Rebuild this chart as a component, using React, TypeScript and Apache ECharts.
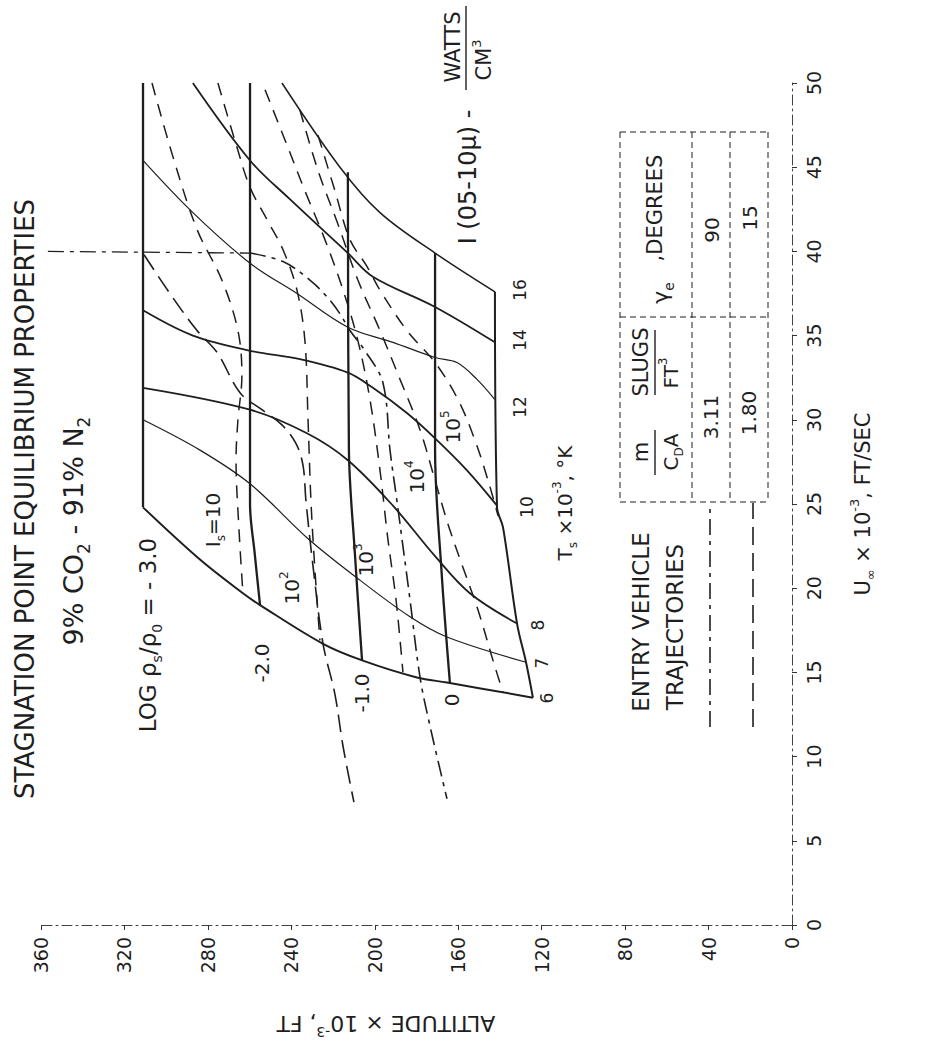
import React, { useEffect, useRef } from "react";
import * as echarts from "echarts";

// Axes
const altitudeTicks = [0, 40, 80, 120, 160, 200, 240, 280, 320, 360];
const velocityTicks = [0, 5, 10, 15, 20, 25, 30, 35, 40, 45, 50];

// Points are [altitude x10^-3 ft, velocity x10^-3 ft/s]
// log(rho_s/rho_0) lines
const rhoM3 = [[311.1, 50], [311.1, 24.8]];
const rhoM2 = [[259.8, 50], [259.8, 25.0], [257.5, 22.0], [255.0, 19.0]];
const rhoM1 = [[212.9, 44.7], [212.4, 28.2], [209.5, 22.0], [206.1, 15.7]];
const rho0 = [[171.1, 39.9], [171.1, 28.2], [168.0, 21.0], [164.0, 14.4]];
const rhoP1 = [[142.4, 37.6], [141.4, 24.8], [138.5, 23.6], [131.8, 17.9], [127.5, 15.6], [124.2, 13.5]];

// Stagnation temperature lines (Ts x 10^-3 K)
const ts6 = [[311.1, 24.8], [283.8, 21.7], [263.2, 19.7], [255.0, 19.0], [224.8, 16.7], [205.7, 15.7], [179.8, 14.7], [165.4, 14.4], [124.2, 13.5]];
const ts7 = [[311.1, 30.0], [283.8, 28.2], [259.8, 26.2], [232.5, 23.0], [210.5, 20.8], [183.1, 18.3], [165.4, 17.1], [127.5, 15.6]];
const ts8 = [[311.1, 31.9], [259.8, 30.6], [232.5, 29.2], [212.9, 27.6], [191.3, 24.9], [171.1, 21.9], [154.4, 19.7], [131.8, 17.9]];
const ts10 = [[311.1, 36.5], [287.2, 35.0], [259.8, 34.1], [235.9, 33.6], [212.9, 32.8], [200.9, 31.9], [184.6, 30.4], [171.1, 28.9], [155.8, 27.0], [141.4, 24.9]];
const ts12 = [[311.1, 45.4], [287.2, 42.3], [259.8, 39.3], [237.3, 37.5], [212.9, 35.5], [191.3, 34.6], [171.1, 33.7], [160.6, 33.4], [151.0, 32.4], [142.4, 31.2]];
const ts14 = [[287.2, 50.0], [259.8, 45.4], [240.7, 43.1], [212.9, 39.9], [200.9, 38.5], [171.1, 36.7], [142.4, 34.6]];
const ts16 = [[244.5, 50.0], [216.7, 45.0], [197.5, 42.3], [171.1, 39.9], [142.4, 37.6]];

// Radiation intensity lines I (0.5-10 micron), W/cm^3
const is1 = [[306.8, 50.0], [296.7, 45.6], [285.2, 41.3], [273.3, 38.3], [265.6, 35.3], [263.7, 32.6], [265.6, 30.0], [266.5, 27.6], [265.1, 23.5], [263.2, 19.7]];
const is2 = [[275.2, 50.0], [266.1, 46.2], [259.8, 43.8], [251.7, 41.9], [244.0, 40.1], [237.3, 37.7], [233.5, 34.7], [232.0, 30.0], [230.6, 25.2], [228.7, 21.1], [226.3, 16.9]];
const is3 = [[252.6, 49.6], [243.0, 46.6], [233.5, 43.6], [223.9, 40.7], [215.2, 37.7], [208.1, 34.7], [202.3, 31.2], [197.5, 27.0], [193.7, 22.9], [189.8, 19.3], [186.5, 15.0]];
const is4 = [[235.9, 48.4], [227.2, 44.8], [217.6, 41.6], [208.1, 38.3], [197.5, 35.3], [187.9, 32.4], [178.3, 29.4], [171.1, 26.4], [164.9, 23.8], [158.2, 21.4], [150.5, 18.7], [143.3, 15.7], [138.5, 13.8]];
const is5 = [[227.2, 46.9], [219.1, 43.6], [211.9, 40.7], [203.7, 39.1], [197.5, 37.7], [184.6, 35.3], [171.1, 33.4], [160.1, 31.2], [152.0, 28.8], [145.7, 26.4], [140.9, 24.3]];

// Entry trajectories
const entryVelocityLine = [[356.7, 40.0], [259.8, 39.9]];
const trajSteep = [[259.8, 39.9], [244.0, 39.4], [231.1, 38.3], [222.9, 37.3], [216.7, 36.3], [211.9, 35.3], [204.7, 34.1], [196.1, 32.2], [192.7, 28.2], [189.4, 25.2], [183.1, 19.3], [178.3, 14.7], [173.5, 11.8], [165.4, 7.5]];
const trajShallow = [[310.6, 39.8], [298.2, 37.5], [285.2, 35.3], [275.6, 34.0], [264.6, 31.6], [254.1, 30.6], [244.5, 29.7], [237.8, 28.6], [234.4, 27.3], [233.0, 25.2], [229.6, 21.3], [224.8, 16.7], [219.1, 13.7], [215.2, 10.6], [210.0, 7.3]];

const FONT = '"DejaVu Sans", "Liberation Sans", sans-serif';
const INK = "#1e1e1e";
const R = Math.PI / 2;

function richStyles(size: number) {
  return {
    b: { fontSize: size, lineHeight: Math.round(size * 1.4), fill: INK, fontFamily: FONT },
    sub: { fontSize: Math.round(size * 0.62), lineHeight: Math.round(size * 0.62), verticalAlign: "bottom", fill: INK, fontFamily: FONT },
    sup: { fontSize: Math.round(size * 0.62), lineHeight: Math.round(size * 0.62), verticalAlign: "top", fill: INK, fontFamily: FONT },
  };
}

function txt(text: string, x: number, y: number, size: number, rotation = R, rich = false) {
  const style: any = {
    text,
    fill: INK,
    fontSize: size,
    fontFamily: FONT,
    align: "center",
    verticalAlign: "middle",
    textAlign: "center",
    textVerticalAlign: "middle",
  };
  if (rich) style.rich = richStyles(size);
  return { type: "text", x, y, rotation, style, z: 10 };
}

function seg(x1: number, y1: number, x2: number, y2: number, dash: any = null, w = 1.2) {
  return {
    type: "line",
    shape: { x1, y1, x2, y2 },
    style: { stroke: INK, lineWidth: w, lineDash: dash },
    z: 10,
  };
}

function lineSeries(data: number[][], width: number, type: any = "solid", smooth: number | boolean = 0.35) {
  return {
    type: "line",
    data,
    smooth,
    symbol: "none",
    silent: true,
    lineStyle: { color: INK, width, type },
  };
}

export default function App() {
  const ref = useRef<HTMLDivElement>(null);
  useEffect(() => {
    if (!ref.current) return;
    const chart = echarts.init(ref.current, undefined, { renderer: "svg" });
    const dashDot = [16, 6, 4, 6];
    const longDash = [18, 8];
    const isDash = [13, 9];
    const option: any = {
      animation: false,
      backgroundColor: "#ffffff",
      grid: { left: 41, right: 145, top: 83, bottom: 131, containLabel: false },
      xAxis: {
        type: "value",
        min: altitudeTicks[0],
        max: altitudeTicks[altitudeTicks.length - 1],
        interval: 40,
        inverse: true,
        position: "bottom",
        axisLine: { show: true, onZero: false, lineStyle: { color: "#444", width: 1, type: [10, 4, 2, 4] } },
        axisTick: { show: true, length: 5, lineStyle: { color: "#333" } },
        axisLabel: { rotate: 90, margin: 12, fontSize: 19, color: INK, fontFamily: FONT },
        splitLine: { show: false },
      },
      yAxis: {
        type: "value",
        min: velocityTicks[0],
        max: velocityTicks[velocityTicks.length - 1],
        interval: 5,
        position: "right",
        axisLine: { show: true, onZero: false, lineStyle: { color: "#444", width: 1, type: [10, 4, 2, 4] } },
        axisTick: { show: true, length: 5, lineStyle: { color: "#333" } },
        axisLabel: { rotate: 90, margin: 12, fontSize: 19, color: INK, fontFamily: FONT },
        splitLine: { show: false },
        name: "{b|U}{sub|∞}{b| × 10}{sup|-3}{b|, FT/SEC}",
        nameLocation: "middle",
        nameGap: 56,
        nameRotate: 90,
        nameTextStyle: { rich: richStyles(21), color: INK },
      },
      series: [
        lineSeries(rhoM3, 2.3, "solid", false),
        lineSeries(rhoM2, 2.3),
        lineSeries(rhoM1, 2.3),
        lineSeries(rho0, 2.3),
        lineSeries(rhoP1, 2.0),
        lineSeries(ts6, 2.0),
        lineSeries(ts7, 1.2),
        lineSeries(ts8, 1.8),
        lineSeries(ts10, 1.8),
        lineSeries(ts12, 1.2),
        lineSeries(ts14, 1.8),
        lineSeries(ts16, 1.5),
        lineSeries(is1, 1.5, isDash),
        lineSeries(is2, 1.5, isDash),
        lineSeries(is3, 1.5, isDash),
        lineSeries(is4, 1.5, isDash),
        lineSeries(is5, 1.5, isDash),
        lineSeries(entryVelocityLine, 1.3, dashDot, false),
        lineSeries(trajSteep, 1.6, dashDot),
        lineSeries(trajShallow, 1.6, longDash),
      ],
      graphic: [
        txt("STAGNATION POINT EQUILIBRIUM PROPERTIES", 25, 499, 26),
        txt("{b|9% CO}{sub|2}{b| - 91% N}{sub|2}", 73, 531, 27, R, true),
        txt("{b|LOG ρ}{sub|s}{b|/ρ}{sub|0}{b| = - 3.0}", 148, 635, 23, R, true),
        txt("-2.0", 262, 663, 20),
        txt("-1.0", 362, 693, 20),
        txt("0", 452, 700, 20),
        txt("16", 520, 290, 17),
        txt("14", 520, 340, 17),
        txt("12", 520, 407, 17),
        txt("10", 527, 507, 17),
        txt("8", 538, 625, 17),
        txt("7", 542, 663, 17),
        txt("6", 547, 698, 17),
        txt("{b|T}{sub|s}{b| ×10}{sup|-3}{b|, °K}", 565, 503, 20, R, true),
        txt("{b|I}{sub|s}{b|=10}", 213, 520, 20, R, true),
        txt("{b|10}{sup|2}", 292, 588, 20, R, true),
        txt("{b|10}{sup|3}", 366, 560, 20, R, true),
        txt("{b|10}{sup|4}", 417, 477, 20, R, true),
        txt("{b|10}{sup|5}", 453, 427, 20, R, true),
        txt("I (05-10μ) -", 468, 177, 24),
        txt("WATTS", 453, 47, 21),
        seg(466, 6, 466, 90, null, 1.4),
        txt("{b|CM}{sup|3}", 484, 60, 21, R, true),
        // legend
        txt("ENTRY VEHICLE", 641, 622, 23),
        txt("TRAJECTORIES", 675, 627, 23),
        seg(710, 727, 710, 503, dashDot, 1.6),
        seg(753, 727, 753, 503, longDash, 1.6),
        txt("m", 641, 452, 21),
        seg(655, 430, 655, 475, null, 1.4),
        txt("{b|C}{sub|D}{b|A}", 671, 452, 20, R, true),
        txt("SLUGS", 641, 362, 21),
        seg(655, 330, 655, 395, null, 1.4),
        txt("{b|FT}{sup|3}", 671, 373, 20, R, true),
        txt("{b|γ}{sub|e}", 660, 293, 22, R, true),
        txt(",DEGREES", 655, 208, 21),
        txt("3.11", 711, 417, 20),
        txt("90", 712, 230, 20),
        txt("1.80", 749, 413, 20),
        txt("15", 750, 218, 20),
        seg(620, 132, 768, 132, [6, 4], 1),
        seg(620, 317, 768, 317, [6, 4], 1),
        seg(620, 502, 768, 502, [6, 4], 1),
        seg(620, 132, 620, 502, [6, 4], 1),
        seg(692, 132, 692, 502, [6, 4], 1),
        seg(730, 132, 730, 502, [6, 4], 1),
        seg(768, 132, 768, 502, [6, 4], 1),
        txt("{b|ALTITUDE × 10}{sup|-3}{b|, FT}", 386, 1023, 22, Math.PI, true),
      ],
    };
    chart.setOption(option);
    return () => chart.dispose();
  }, []);
  return (
    <div
      ref={ref}
      style={{ position: "absolute", left: 0, top: 0, width: 937, height: 1056, background: "#fff" }}
    />
  );
}
